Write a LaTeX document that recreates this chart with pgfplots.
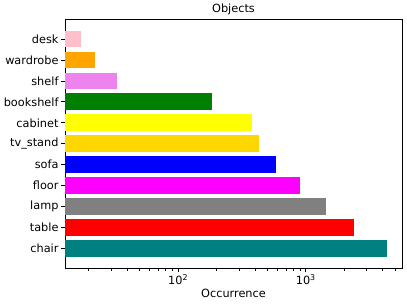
\documentclass[border=0pt]{standalone}
\usepackage{pgfplots}
\pgfplotsset{compat=1.18}
\usepackage{fontspec}
\setmainfont{DejaVu Sans}
\definecolor{cteal}{RGB}{0,128,128}
\definecolor{cred}{RGB}{255,0,0}
\definecolor{cgray}{RGB}{128,128,128}
\definecolor{cmag}{RGB}{255,0,255}
\definecolor{cblue}{RGB}{0,0,255}
\definecolor{cgold}{RGB}{255,215,0}
\definecolor{cyellow}{RGB}{255,255,0}
\definecolor{cgreen}{RGB}{0,128,0}
\definecolor{cviolet}{RGB}{238,130,238}
\definecolor{corange}{RGB}{255,165,0}
\definecolor{cpink}{RGB}{255,192,203}
\begin{document}
\begin{tikzpicture}
\begin{semilogxaxis}[
  at={(0,0)}, anchor=south west,
  scale only axis, width=337pt, height=249pt,
  xmin=13, xmax=5670, ymin=-0.94, ymax=10.94,
  xbar, bar width=0.8, bar shift=0pt,
  log origin=infty,
  tick label style={font=\fontsize{11.3}{13}\selectfont},
  label style={font=\fontsize{11.3}{13}\selectfont},
  title style={font=\fontsize{11.3}{13}\selectfont, yshift=-5.5pt},
  title={Objects},
  xlabel={Occurrence},
  xtick={100,1000}, xticklabels={10\textsuperscript{2},10\textsuperscript{3}},
  minor xtick={20,30,40,50,60,70,80,90,200,300,400,500,600,700,800,900,2000,3000,4000,5000},
  ytick={0,1,2,3,4,5,6,7,8,9,10},
  yticklabels={chair,table,lamp,floor,sofa,tv\_stand,cabinet,bookshelf,shelf,wardrobe,desk},
  tick align=outside, xtick pos=bottom, ytick pos=left,
  major tick length=4pt, minor tick length=2.3pt,
  every tick/.style={black, line width=0.8pt},
  axis line style={line width=0.8pt},
  /pgf/number format/assume math mode=true,
  xlabel style={yshift=3pt},
  xticklabel style={yshift=1pt},
  yticklabel style={xshift=1pt},
]
\addplot[fill=cteal, draw=none] coordinates {(4324,0)};
\addplot[fill=cred, draw=none] coordinates {(2395,1)};
\addplot[fill=cgray, draw=none] coordinates {(1452,2)};
\addplot[fill=cmag, draw=none] coordinates {(902,3)};
\addplot[fill=cblue, draw=none] coordinates {(581,4)};
\addplot[fill=cgold, draw=none] coordinates {(430,5)};
\addplot[fill=cyellow, draw=none] coordinates {(377,6)};
\addplot[fill=cgreen, draw=none] coordinates {(184,7)};
\addplot[fill=cviolet, draw=none] coordinates {(33.2,8)};
\addplot[fill=corange, draw=none] coordinates {(22.2,9)};
\addplot[fill=cpink, draw=none] coordinates {(17.2,10)};
\end{semilogxaxis}
\pgfresetboundingbox
\path[use as bounding box] (-65pt,-35.7pt) rectangle (342pt,268.3pt);
\end{tikzpicture}
\end{document}
